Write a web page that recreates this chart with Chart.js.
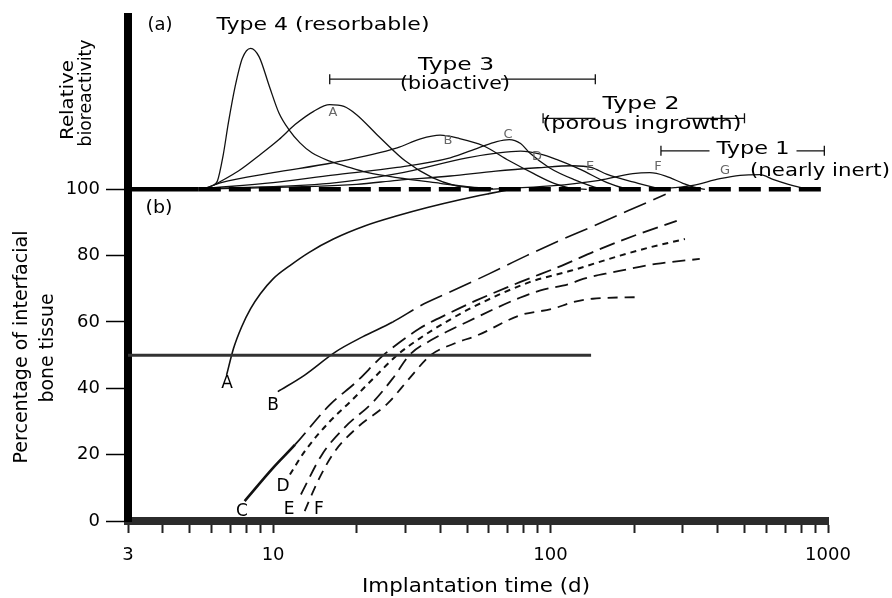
<!DOCTYPE html>
<html>
<head>
<meta charset="utf-8">
<script src="https://cdn.jsdelivr.net/npm/chart.js@4.4.1/dist/chart.umd.min.js"></script>
<style>
  html, body { margin: 0; padding: 0; background: #fff; }
  #wrap { position: relative; width: 892px; height: 598px; }
</style>
</head>
<body>
<div id="wrap"><canvas id="bioChart" width="892" height="598"></canvas></div>
<script>
// axis ticks
const dayTicks = [3, 4, 5, 6, 7, 8, 9, 10, 20, 30, 40, 50, 60, 70, 80, 90, 100,
                  200, 300, 400, 500, 600, 700, 800, 900, 1000];
const dayLabels = [3, 10, 100, 1000];
const pctTicks = [0, 20, 40, 60, 80, 100];

// (a) relative bioactivity, [day, value] (100 = baseline)
const actType4 = [[5.4,100],[6.0,101],[6.3,102.5],[6.6,110],[6.9,120],[7.3,131],[7.75,139.5],[8.3,142.5],
                  [8.9,140],[9.7,131],[10.5,123],[11.4,118],[12.5,114],[13.8,111],[16,108.5],[18.2,107],
                  [22,105],[28,103.5],[40,101.8],[50,100.8],[62,100.2]];
const actA = [[6.2,101.5],[7.5,105.5],[9,110.5],[10.5,115],[12,119.5],[14,123.5],[16,125.5],[18,125],
              [20,122.5],[24,116],[30,108.5],[37.5,103.5],[45,101.2],[55,100.2]];
const actB = [[5.8,100.5],[6.5,102],[10,105],[16.4,108],[28,112.5],[34,115.2],[40,116.3],[47,115.3],
              [57,113.2],[71,108.6],[87,104.7],[103,101.8],[121,100.2],[135,100]];
const actC = [[5.8,100.3],[10,102],[16.4,104.3],[28,106.6],[43.5,109.5],[55,112.5],[64,114.4],[71,115],
              [78,113.8],[84,111],[99,106.5],[121,103],[150,100.3],[165,100]];
const actD = [[5.8,100.2],[16,101.8],[28,104.7],[50,109.5],[65,111],[78,111.5],[92,110.6],[105,109],
              [128,106],[160,102],[185,100.3],[200,100]];
const actE = [[5.8,100.1],[20,101.5],[28,102.7],[43.5,104],[63.5,105.5],[90,106.5],[120,107.1],[140,106.6],
              [160,104.5],[198,102.2],[248,100.2],[270,100]];
const actF = [[60,100],[100,101],[150,102.7],[198,104.7],[228,105],[260,104],[300,101.8],[326,100.7],[360,100]];
const actG = [[230,100],[280,100.5],[326,101.2],[408,103.2],[482,104.2],[570,104.4],[633,103],[720,101.5],
              [800,100.5],[850,100]];
const baseline = [[3,100],[5.4,100],[1000,100]];

// (b) percentage of interfacial bone tissue, [day, %]
const boneA = [[6.8,44],[7.2,52],[7.7,58.5],[8.3,64],[9,68.5],[10,73],[11.5,77],[13.5,81],[16.5,85],
               [21.5,89],[28,92],[36,94.5],[48,97],[60,98.7],[70,99.8]];
const boneB = [[10.4,39],[13,44],[16.8,51],[21,55.5],[27,60],[35,65.5],[42,68.5],[60,74.5],[82,80],
               [111,85],[139,88.5],[190,93.5],[260,98.5]];
const boneC = [[7.9,6],[10,16],[12,23],[16,35],[20,42],[25,50],[33.7,58],[44,63],[54,66.5],[77.5,72],
               [110,77],[146,81.5],[200,86],[285,90.5]];
const boneD = [[11.5,14],[13,21],[16,30],[19,36],[23,43],[28,50],[33.7,55],[44,61],[54,65],[84,72],
               [119,75.5],[178,80],[228,82.5],[305,85]];
const boneE = [[12.6,8],[15,20],[18,28],[23,36],[27,43],[31,50],[38,55],[50,60],[63,64],[77.5,67.3],
               [92,69.5],[117,71.5],[131,73],[168,75],[240,77.5],[345,79]];
const boneF = [[13,3],[14.5,12],[16.6,20.7],[20,28],[26,35.6],[31,43],[37,50],[45,53.5],[54.6,56],
               [77.5,62],[102,64],[121,66],[142,67],[212,67.5]];
const halfLine = [[3,50],[140,50]];

// material type ranges (days) and bracket levels
const typeRanges = [[16,145],[94,500],[250,970]];
const typeLevels = [133.2, 121.4, 111.6];

function curve(points, opts) {
    return Object.assign({
        data: points.map(p => ({ x: p[0], y: p[1] })),
        borderColor: '#111',
        borderWidth: 1.3,
        pointRadius: 0,
        fill: false
    }, opts || {});
}

function stretchText(ctx, s, cx, cy, w, size, opts) {
    opts = opts || {};
    ctx.save();
    ctx.font = size + 'px "DejaVu Sans"';
    ctx.fillStyle = opts.color || '#000';
    ctx.translate(cx, cy);
    if (opts.rotate) ctx.rotate(-Math.PI / 2);
    const m = ctx.measureText(s).width;
    if (w) ctx.scale(w / m, 1);
    ctx.textAlign = 'center';
    ctx.textBaseline = 'middle';
    ctx.fillText(s, 0, 0);
    ctx.restore();
}

// titles, brackets and curve letters
const annotate = {
    id: 'annotate',
    afterDraw(chart) {
        const ctx = chart.ctx;
        const x = chart.scales.x, y = chart.scales.y;

        // brackets
        const gaps = [[456, 76], [641, 77], [753, 73]];
        ctx.save();
        ctx.strokeStyle = '#111';
        ctx.lineWidth = 1.3;
        typeRanges.forEach((r, i) => {
            const x0 = x.getPixelForValue(r[0]), x1 = x.getPixelForValue(r[1]);
            const yy = y.getPixelForValue(typeLevels[i]);
            const g0 = gaps[i][0] - gaps[i][1] / 2 - 7, g1 = gaps[i][0] + gaps[i][1] / 2 + 7;
            ctx.beginPath();
            ctx.moveTo(x0, yy); ctx.lineTo(g0, yy);
            ctx.moveTo(g1, yy); ctx.lineTo(x1, yy);
            ctx.moveTo(x0, yy - 5); ctx.lineTo(x0, yy + 5);
            ctx.moveTo(x1, yy - 5); ctx.lineTo(x1, yy + 5);
            ctx.stroke();
        });
        ctx.restore();

        stretchText(ctx, '(a)', 160, 25, 25, 18);
        stretchText(ctx, 'Type 4 (resorbable)', 323, 25, 213, 18);
        stretchText(ctx, 'Type 3', 456, 65, 76, 18);
        stretchText(ctx, '(bioactive)', 455, 84, 110, 18);
        stretchText(ctx, 'Type 2', 641, 104, 77, 18);
        stretchText(ctx, '(porous ingrowth)', 642, 124, 199, 18);
        stretchText(ctx, 'Type 1', 753, 149, 73, 18);
        stretchText(ctx, '(nearly inert)', 820, 171, 140, 18);
        stretchText(ctx, '(b)', 159, 208, 27, 18);

        // axis titles
        stretchText(ctx, 'Relative', 68, 100, 80, 18, { rotate: true });
        stretchText(ctx, 'bioreactivity', 86, 93, 107, 18, { rotate: true });
        stretchText(ctx, 'Percentage of interfacial', 22, 347, 233, 19, { rotate: true });
        stretchText(ctx, 'bone tissue', 48, 348, 109, 19, { rotate: true });
        stretchText(ctx, 'Implantation time (d)', 476, 587, 228, 19);

        // peak letters (a)
        const grey = { color: '#666' };
        [['A', 333, 113], ['B', 448, 141], ['C', 508, 135], ['D', 537, 157],
         ['E', 590, 167], ['F', 658, 167], ['G', 725, 171]].forEach(l => {
            stretchText(ctx, l[0], l[1], l[2], 0, 13, grey);
        });
        // curve letters (b)
        [['A', 227, 384], ['B', 273, 406], ['C', 242, 512], ['D', 283, 487],
         ['E', 289, 510], ['F', 319, 510]].forEach(l => {
            stretchText(ctx, l[0], l[1], l[2], 0, 17);
        });
    }
};

const datasets = [
    curve(baseline, { borderColor: '#000', borderWidth: 4.5, tension: 0, cubicInterpolationMode: 'default',
        borderDash: [22, 8], segment: { borderDash: c => c.p0.parsed.x < 5.4 ? [] : undefined } }),
    curve(actType4), curve(actA), curve(actB), curve(actC), curve(actD), curve(actE), curve(actF), curve(actG),
    curve(halfLine, { borderColor: '#333', borderWidth: 3, tension: 0, cubicInterpolationMode: 'default' }),
    curve(boneA, { borderWidth: 1.6 }),
    curve(boneB, { borderWidth: 1.6, segment: { borderDash: c => c.p0.parsed.x >= 27 ? [24, 8] : undefined } }),
    curve(boneC, { borderWidth: 1.8, borderDash: [16, 7],
        segment: { borderDash: c => c.p0.parsed.x < 12 ? [] : undefined,
                   borderWidth: c => c.p0.parsed.x < 12 ? 2.6 : undefined } }),
    curve(boneD, { borderWidth: 2, borderDash: [6, 5] }),
    curve(boneE, { borderWidth: 1.8, borderDash: [13, 7] }),
    curve(boneF, { borderWidth: 1.8, borderDash: [10, 7] })
];

const ctx = document.getElementById('bioChart').getContext('2d');
new Chart(ctx, {
    type: 'line',
    data: { datasets: datasets },
    options: {
        responsive: false,
        animation: false,
        layout: { padding: { top: 8, right: 64, left: 0, bottom: 0 } },
        plugins: { legend: { display: false }, tooltip: { enabled: false } },
        elements: { line: { cubicInterpolationMode: 'monotone' } },
        scales: {
            x: {
                type: 'logarithmic',
                min: 3,
                max: 1000,
                afterBuildTicks: s => { s.ticks = dayTicks.map(v => ({ value: v })); },
                afterFit: s => { s.height = 77; },
                grid: { drawOnChartArea: false, tickLength: 12, tickWidth: 2, tickColor: '#222' },
                border: { display: true, width: 8, color: '#2b2b2b' },
                ticks: {
                    autoSkip: false, maxRotation: 0, padding: 12, color: '#000',
                    font: { family: 'DejaVu Sans', size: 18 },
                    callback: v => dayLabels.includes(v) ? String(v) : ''
                }
            },
            y: {
                min: 0,
                max: 152,
                afterBuildTicks: s => { s.ticks = pctTicks.map(v => ({ value: v })); },
                afterFit: s => { s.width = 128; },
                grid: { drawOnChartArea: false, tickLength: 22, tickWidth: 1.5, tickColor: '#000' },
                border: { display: true, width: 8, color: '#000' },
                ticks: { padding: 6, color: '#000', font: { family: 'DejaVu Sans', size: 18 } }
            }
        }
    },
    plugins: [annotate]
});
</script>
</body>
</html>
